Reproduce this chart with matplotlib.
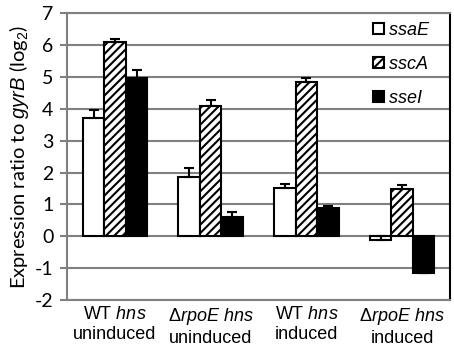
import numpy as np
import matplotlib
matplotlib.use("Agg")
import matplotlib.pyplot as plt

plt.rcParams['font.family'] = ['Lato', 'DejaVu Sans']
plt.rcParams['mathtext.fontset'] = 'custom'
plt.rcParams['mathtext.rm'] = 'Liberation Sans'
plt.rcParams['mathtext.it'] = 'Liberation Sans:italic'
plt.rcParams['hatch.linewidth'] = 1.5
plt.rcParams['axes.unicode_minus'] = False

# dados
grupos = [r'WT $\it{hns}$' + '\nuninduced',
          r'$\it{\Delta rpoE\ hns}$' + '\nuninduced',
          r'WT $\it{hns}$' + '\ninduced',
          r'$\it{\Delta rpoE\ hns}$' + '\ninduced']
genes = ['ssaE', 'sscA', 'sseI']
ssaE = [3.70, 1.85, 1.50, -0.10]
sscA = [6.10, 4.10, 4.85, 1.48]
sseI = [4.97, 0.60, 0.88, -1.15]
err_ssaE = [0.25, 0.30, 0.15, 0.12]
err_sscA = [0.10, 0.17, 0.12, 0.14]
err_sseI = [0.25, 0.17, 0.08, 0.0]

valores = [ssaE, sscA, sseI]
erros = [err_ssaE, err_sscA, err_sseI]
cores = ['white', 'white', 'black']
hatches = [None, '////', None]

fig = plt.figure(figsize=(4.54, 3.47), dpi=100)
ax = fig.add_axes([0.148, 0.135, 0.843, 0.8275])

x = np.arange(len(grupos))
w = 0.225
for i in range(3):
    pos = x + (i - 1) * w
    yerr = [np.zeros(4), np.array(erros[i])]
    ax.bar(pos, valores[i], w, color=cores[i], edgecolor='black', linewidth=1.5,
           hatch=hatches[i], label=r'$\it{' + genes[i] + '}$', zorder=3)
    ax.errorbar(pos, valores[i], yerr=yerr, fmt='none', ecolor='black',
                elinewidth=1.5, capsize=3.5, capthick=1.5, zorder=4)

ax.set_xlim(-0.5, 3.5)
ax.set_ylim(-2, 7)
ax.set_yticks(range(-2, 8))
ax.yaxis.grid(True, color='#808080', linewidth=1.5, zorder=0)
ax.set_axisbelow(True)
ax.tick_params(axis='y', length=5, width=1.5, color='#808080', labelsize=14, pad=5)
ax.tick_params(axis='x', length=0, labelsize=13, pad=4)
ax.set_xticks(x)
ax.set_xticklabels(grupos, linespacing=1.25, family='Liberation Sans')

for s in ['left', 'bottom', 'top']:
    ax.spines[s].set_color('#808080')
    ax.spines[s].set_linewidth(1.5)
ax.spines['right'].set_color('black')
ax.spines['right'].set_linewidth(1.5)

ax.set_ylabel(r'Expression ratio to $\it{gyrB}$ (log$_2$)', fontsize=14.5, labelpad=3)

leg = ax.legend(loc='upper right', frameon=False, fontsize=13, handlelength=0.6,
                handleheight=0.6, handletextpad=0.2, labelspacing=0.95,
                bbox_to_anchor=(0.99, 1.03))

fig.savefig('out.png', dpi=100)
